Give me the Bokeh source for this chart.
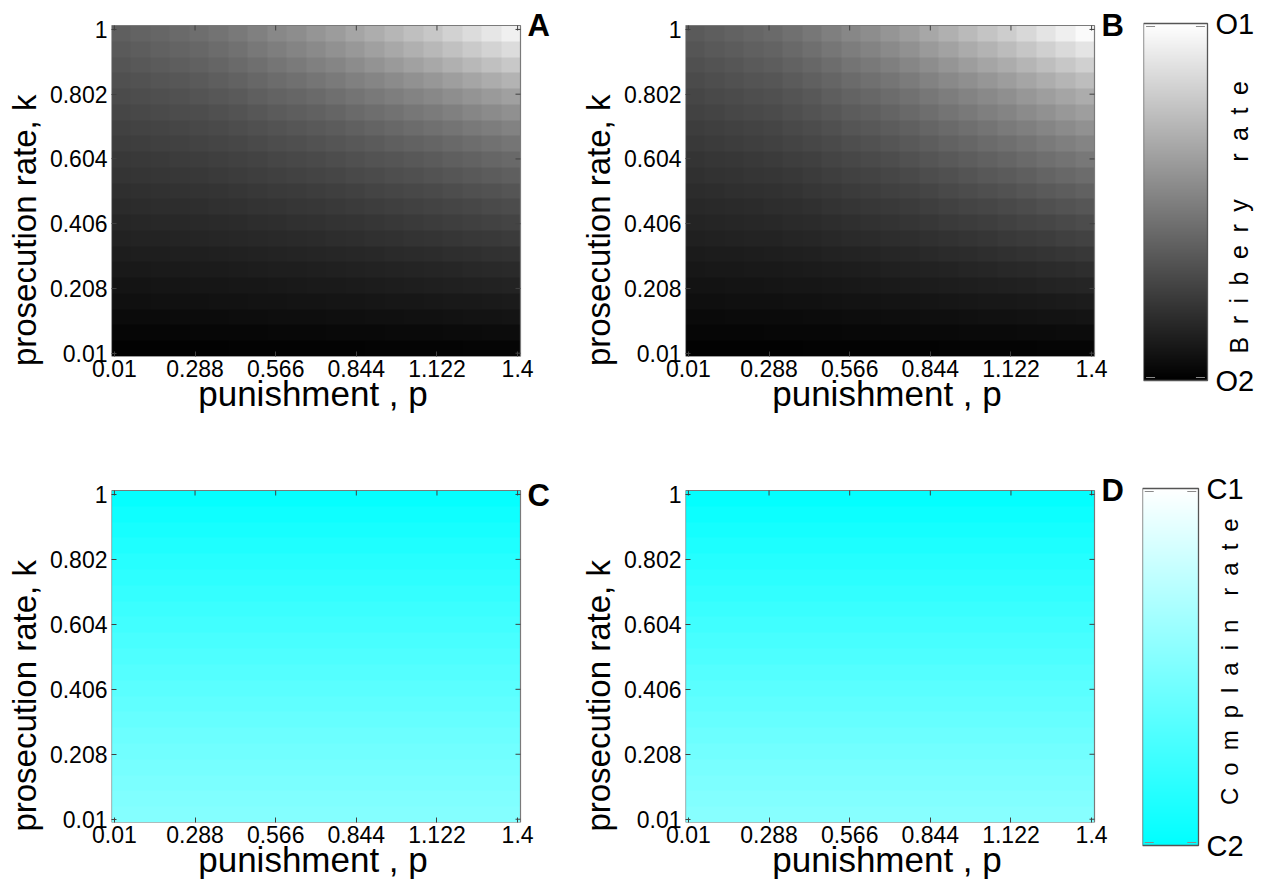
import math
import numpy as np
from bokeh.plotting import figure
from bokeh.models import LinearColorMapper, FixedTicker, Range1d
from bokeh.layouts import column, row
from bokeh.embed import file_html
from bokeh.resources import INLINE
from bokeh.core.properties import value

# ---------------- data ----------------
p_ticks = [0.01, 0.288, 0.566, 0.844, 1.122, 1.4]
p_tick_labels = ["0.01", "0.288", "0.566", "0.844", "1.122", "1.4"]
k_ticks = [0.01, 0.208, 0.406, 0.604, 0.802, 1]
k_tick_labels = ["0.01", "0.208", "0.406", "0.604", "0.802", "1"]

# bribery rate read from the maps as colour level (0 = O2 black ... 255 = O1 white)
# rows: prosecution rate k from 0.01 (first row) to 1 (last row), 21 steps
# columns: punishment p from 0.01 to 1.4, 21 steps
bribery_A = [
    [2, 2, 2, 2, 2, 2, 3, 3, 3, 3, 3, 3, 3, 4, 4, 4, 4, 4, 5, 5, 5],
    [6, 6, 6, 6, 7, 7, 7, 7, 8, 8, 8, 9, 9, 9, 10, 10, 10, 11, 11, 12, 12],
    [11, 11, 11, 12, 12, 12, 13, 13, 14, 14, 14, 15, 15, 16, 16, 17, 17, 18, 19, 19, 20],
    [16, 16, 17, 17, 17, 18, 18, 19, 19, 20, 20, 21, 21, 22, 23, 23, 24, 25, 25, 26, 27],
    [20, 20, 21, 21, 22, 22, 23, 23, 24, 25, 26, 26, 27, 28, 29, 30, 31, 32, 33, 34, 35],
    [25, 25, 26, 26, 27, 27, 28, 29, 30, 30, 31, 32, 33, 34, 35, 36, 37, 38, 40, 41, 42],
    [29, 30, 30, 31, 31, 32, 33, 34, 35, 36, 37, 38, 39, 40, 42, 43, 44, 46, 47, 49, 50],
    [34, 35, 35, 36, 37, 38, 39, 40, 41, 42, 43, 45, 46, 48, 49, 51, 52, 54, 56, 57, 59],
    [38, 39, 40, 40, 41, 42, 43, 45, 46, 48, 49, 51, 52, 54, 56, 58, 60, 62, 64, 66, 68],
    [43, 44, 45, 45, 46, 48, 49, 51, 52, 54, 55, 57, 59, 61, 63, 65, 67, 69, 71, 74, 76],
    [47, 48, 49, 50, 51, 52, 54, 56, 58, 59, 61, 63, 65, 68, 70, 72, 74, 77, 80, 82, 85],
    [52, 53, 54, 55, 56, 58, 60, 62, 64, 66, 68, 70, 73, 75, 78, 80, 83, 86, 89, 92, 95],
    [56, 57, 58, 60, 61, 63, 65, 67, 70, 72, 74, 77, 80, 83, 85, 88, 91, 95, 98, 102, 105],
    [61, 62, 64, 65, 67, 69, 71, 74, 77, 79, 82, 85, 88, 91, 95, 98, 101, 105, 109, 113, 117],
    [65, 67, 68, 70, 72, 74, 77, 80, 83, 86, 89, 92, 96, 100, 104, 108, 112, 116, 121, 125, 130],
    [70, 72, 74, 76, 77, 80, 83, 87, 91, 94, 97, 101, 106, 110, 114, 119, 123, 128, 134, 139, 144],
    [75, 77, 79, 81, 84, 87, 90, 95, 99, 102, 106, 111, 116, 121, 126, 131, 136, 142, 148, 154, 160],
    [80, 82, 85, 87, 90, 94, 98, 103, 108, 112, 117, 122, 128, 133, 139, 145, 151, 158, 165, 172, 179],
    [85, 88, 91, 94, 97, 101, 106, 111, 117, 122, 128, 133, 140, 147, 154, 161, 168, 176, 184, 192, 200],
    [90, 93, 97, 100, 103, 108, 113, 120, 126, 132, 138, 145, 152, 160, 168, 176, 184, 193, 202, 211, 220],
    [95, 99, 102, 106, 110, 115, 121, 128, 136, 141, 149, 156, 165, 173, 182, 191, 199, 210, 220, 230, 240],
]
bribery_B = [
    [2, 2, 2, 2, 2, 2, 3, 3, 3, 3, 3, 3, 3, 4, 4, 4, 4, 4, 5, 5, 5],
    [6, 6, 6, 6, 7, 7, 7, 7, 8, 8, 8, 9, 9, 9, 10, 10, 10, 11, 11, 12, 12],
    [10, 10, 11, 11, 11, 11, 12, 12, 13, 13, 14, 14, 15, 15, 16, 17, 17, 18, 19, 19, 20],
    [15, 15, 16, 16, 16, 17, 17, 18, 19, 19, 20, 20, 21, 22, 23, 24, 24, 25, 26, 27, 28],
    [19, 19, 20, 20, 21, 22, 22, 23, 24, 25, 26, 27, 28, 29, 30, 31, 32, 33, 35, 36, 37],
    [23, 24, 24, 25, 25, 26, 27, 28, 29, 30, 32, 33, 34, 35, 37, 38, 40, 41, 43, 44, 46],
    [27, 28, 28, 29, 30, 31, 32, 34, 35, 36, 38, 39, 41, 43, 44, 46, 48, 50, 52, 54, 56],
    [32, 33, 34, 35, 35, 37, 38, 40, 42, 43, 45, 46, 48, 50, 52, 54, 57, 59, 61, 64, 66],
    [36, 37, 38, 39, 40, 42, 43, 45, 47, 49, 51, 53, 55, 58, 60, 62, 65, 68, 70, 73, 76],
    [40, 41, 42, 43, 45, 46, 48, 51, 53, 55, 57, 59, 62, 65, 68, 70, 73, 76, 80, 83, 86],
    [44, 45, 47, 48, 49, 51, 54, 56, 59, 61, 64, 66, 69, 73, 76, 79, 82, 86, 90, 93, 97],
    [48, 50, 51, 53, 54, 56, 59, 62, 65, 67, 70, 73, 77, 80, 84, 88, 91, 95, 100, 104, 108],
    [52, 54, 55, 57, 59, 62, 64, 68, 71, 74, 77, 81, 85, 89, 93, 97, 101, 106, 111, 115, 120],
    [57, 59, 61, 63, 65, 68, 71, 74, 78, 81, 85, 89, 93, 98, 102, 107, 111, 116, 122, 127, 132],
    [61, 63, 65, 67, 69, 73, 76, 80, 85, 88, 92, 96, 101, 106, 111, 116, 122, 127, 133, 139, 145],
    [66, 68, 71, 73, 75, 79, 83, 87, 92, 95, 100, 105, 110, 116, 121, 127, 132, 139, 145, 152, 158],
    [70, 73, 75, 78, 80, 84, 88, 94, 99, 103, 108, 113, 119, 125, 131, 137, 143, 151, 158, 165, 172],
    [75, 78, 81, 84, 86, 91, 96, 101, 107, 112, 117, 123, 130, 137, 143, 150, 157, 165, 173, 181, 189],
    [80, 83, 86, 90, 93, 98, 103, 109, 116, 121, 127, 134, 141, 149, 157, 165, 172, 181, 190, 199, 208],
    [85, 89, 92, 96, 99, 105, 111, 118, 125, 131, 138, 145, 154, 162, 171, 179, 188, 198, 208, 218, 228],
    [90, 94, 98, 102, 106, 112, 119, 127, 135, 141, 149, 157, 167, 176, 186, 196, 205, 216, 228, 239, 250],
]
# complain rate as colour level (0 = C2 cyan ... 255 = C1 white), one value per k row (uniform in p)
complain_C = [132, 128, 123, 118, 113, 108, 102, 96, 90, 84, 78, 72, 65, 59, 52, 45, 38, 30, 22, 14, 5]
complain_D = [135, 130, 125, 120, 114, 108, 102, 96, 90, 84, 77, 71, 64, 57, 50, 43, 36, 28, 20, 12, 3]

FONT = "Liberation Sans"

gray_palette = ["#%02x%02x%02x" % (i, i, i) for i in range(256)]
cyan_palette = ["#%02xffff" % i for i in range(256)]
gray_mapper = LinearColorMapper(palette=gray_palette, low=0, high=255)
cyan_mapper = LinearColorMapper(palette=cyan_palette, low=0, high=255)

# axes limits (ticks sit just inside the box, as in the original)
X_LO, X_HI = 0.0, 1.41
Y_LO, Y_HI = 0.0, 1.012

EXT_R = 36   # extra frame room (px) to the right for the panel letter
EXT_T = 12   # extra frame room (px) above for the panel letter


def make_panel(img, mapper, letter, letter_dy, left, fw, right, top, fh, bottom, tick_fs="23px"):
    x_end = X_HI * (fw + EXT_R) / fw
    y_end = Y_HI * (fh + EXT_T) / fh
    f = figure(frame_width=fw + EXT_R, frame_height=fh + EXT_T,
               min_border_left=left, min_border_right=right - EXT_R,
               min_border_top=top - EXT_T, min_border_bottom=bottom,
               x_range=Range1d(X_LO, x_end), y_range=Range1d(Y_LO, y_end),
               output_backend="svg", toolbar_location=None,
               background_fill_color="white", border_fill_color="white")
    f.grid.visible = False
    f.outline_line_color = None
    f.image(image=[img], x=X_LO, y=Y_LO, dw=X_HI - X_LO, dh=Y_HI - Y_LO, color_mapper=mapper)
    # box around the map
    f.quad(left=[X_LO], right=[X_HI], bottom=[Y_LO], top=[Y_HI],
           fill_color=None, line_color="#7a7a7a", line_width=1.2)
    # inner ticks on top and right edges
    tdx = 5 * (X_HI - X_LO) / fw
    tdy = 5 * (Y_HI - Y_LO) / fh
    f.segment(x0=p_ticks, y0=[Y_HI] * len(p_ticks), x1=p_ticks, y1=[Y_HI - tdy] * len(p_ticks),
              line_color="#404040", line_width=1)
    f.segment(x0=[X_HI] * len(k_ticks), y0=k_ticks, x1=[X_HI - tdx] * len(k_ticks), y1=k_ticks,
              line_color="#404040", line_width=1)

    f.xaxis.ticker = FixedTicker(ticks=p_ticks)
    f.xaxis.major_label_overrides = dict(zip(p_ticks, p_tick_labels))
    f.yaxis.ticker = FixedTicker(ticks=k_ticks)
    f.yaxis.major_label_overrides = dict(zip(k_ticks, k_tick_labels))
    f.xaxis.bounds = (X_LO, X_HI)
    f.yaxis.bounds = (Y_LO, Y_HI)
    # trailing spaces shift the centred labels to where the original has them
    f.xaxis.axis_label = "punishment , p" + "\u2002\u2002\u2009"
    f.yaxis.axis_label = "prosecution rate, k" + "\u2002" * 5 + "\u2005"
    for ax in (f.xaxis, f.yaxis):
        ax.major_label_text_font = FONT
        ax.major_label_text_font_size = tick_fs
        ax.major_label_text_color = "black"
        ax.axis_label_text_font = FONT
        ax.axis_label_text_font_style = "normal"
        ax.axis_label_text_color = "black"
        ax.major_tick_in = 5
        ax.major_tick_out = 0
        ax.major_tick_line_color = "#404040"
        ax.minor_tick_line_color = None
        ax.axis_line_color = None
    f.xaxis.axis_label_text_font_size = "35px"
    f.yaxis.axis_label_text_font_size = "33px"
    f.xaxis.major_label_standoff = 3
    f.xaxis.axis_label_standoff = -6
    f.yaxis.major_label_standoff = 4
    f.yaxis.axis_label_standoff = 4

    f.text(x=[X_HI], y=[y_end], text=[letter], x_offset=7, y_offset=letter_dy,
           text_font=value(FONT), text_font_style="bold", text_font_size="31px",
           text_align="left", text_baseline="top", text_color="black")
    return f


def spaced(s, word_gap):
    return (word_gap).join("\u2002".join(w) for w in s.split(" "))


def make_cbar(mapper, top_lab, bot_lab, title, title_pos, title_fs, left, bw, right, top, bh, bottom):
    ext_r, ext_t, ext_b = right - 3, 10, 14
    n = len(mapper.palette)
    x_end = (bw + ext_r) / bw
    y_lo = -ext_b * n / bh
    y_hi = n + ext_t * n / bh
    f = figure(frame_width=bw + ext_r, frame_height=bh + ext_t + ext_b,
               min_border_left=left, min_border_right=3,
               min_border_top=top - ext_t, min_border_bottom=bottom - ext_b,
               x_range=Range1d(0, x_end), y_range=Range1d(y_lo, y_hi),
               output_backend="svg", toolbar_location=None,
               background_fill_color="white", border_fill_color="white")
    f.grid.visible = False
    f.axis.visible = False
    f.outline_line_color = None
    levels = np.arange(n).reshape(n, 1)
    f.image(image=[levels], x=0, y=0, dw=1, dh=n, color_mapper=mapper)
    f.quad(left=[0], right=[1], bottom=[0], top=[n], fill_color=None,
           line_color="#555555", line_width=1.3)
    # small limit ticks inside the bar at both ends
    tl = 9.0 / bw
    ty = 3.0 * n / bh
    f.segment(x0=[0.04, 1 - 0.04 - tl, 0.04, 1 - 0.04 - tl],
              y0=[n - ty, n - ty, ty, ty],
              x1=[0.04 + tl, 1 - 0.04, 0.04 + tl, 1 - 0.04],
              y1=[n - ty, n - ty, ty, ty],
              line_color="#8a8a8a", line_width=1.2)
    f.text(x=[1, 1], y=[n, 0], text=[top_lab, bot_lab], x_offset=8,
           text_font=value(FONT), text_font_size="29px", text_color="black",
           text_align="left", text_baseline="middle")
    f.text(x=[1], y=[n * title_pos], text=[title], x_offset=31, angle=math.pi / 2,
           text_font=value(FONT), text_font_size=title_fs, text_color="black",
           text_align="center", text_baseline="middle")
    return f


pA = make_panel(np.array(bribery_A), gray_mapper, "A", -6, 111, 409, 54, 22, 331, 112)
pB = make_panel(np.array(bribery_B), gray_mapper, "B", -6, 111, 409, 39, 22, 331, 112)
cb1 = make_cbar(gray_mapper, "O1", "O2", spaced("Bribery rate", "\u2002" * 3), 0.457, "25px",
                10, 64, 54, 23, 357, 85)

imgC = np.array(complain_C).reshape(-1, 1) * np.ones((1, len(complain_C)))
imgD = np.array(complain_D).reshape(-1, 1) * np.ones((1, len(complain_D)))
pC = make_panel(imgC, cyan_mapper, "C", -1, 111, 409, 54, 22, 332, 65)
pD = make_panel(imgD, cyan_mapper, "D", -6, 111, 409, 38, 22, 332, 65)
cb2 = make_cbar(cyan_mapper, "C1", "C2", spaced("Complain rate", "\u2002" * 2), 0.515, "24px",
                10, 56, 63, 23, 357, 39)

layout = column(row(pA, pB, cb1), row(pC, pD, cb2))

with open("out.html", "w") as fh:
    fh.write(file_html(layout, INLINE))
